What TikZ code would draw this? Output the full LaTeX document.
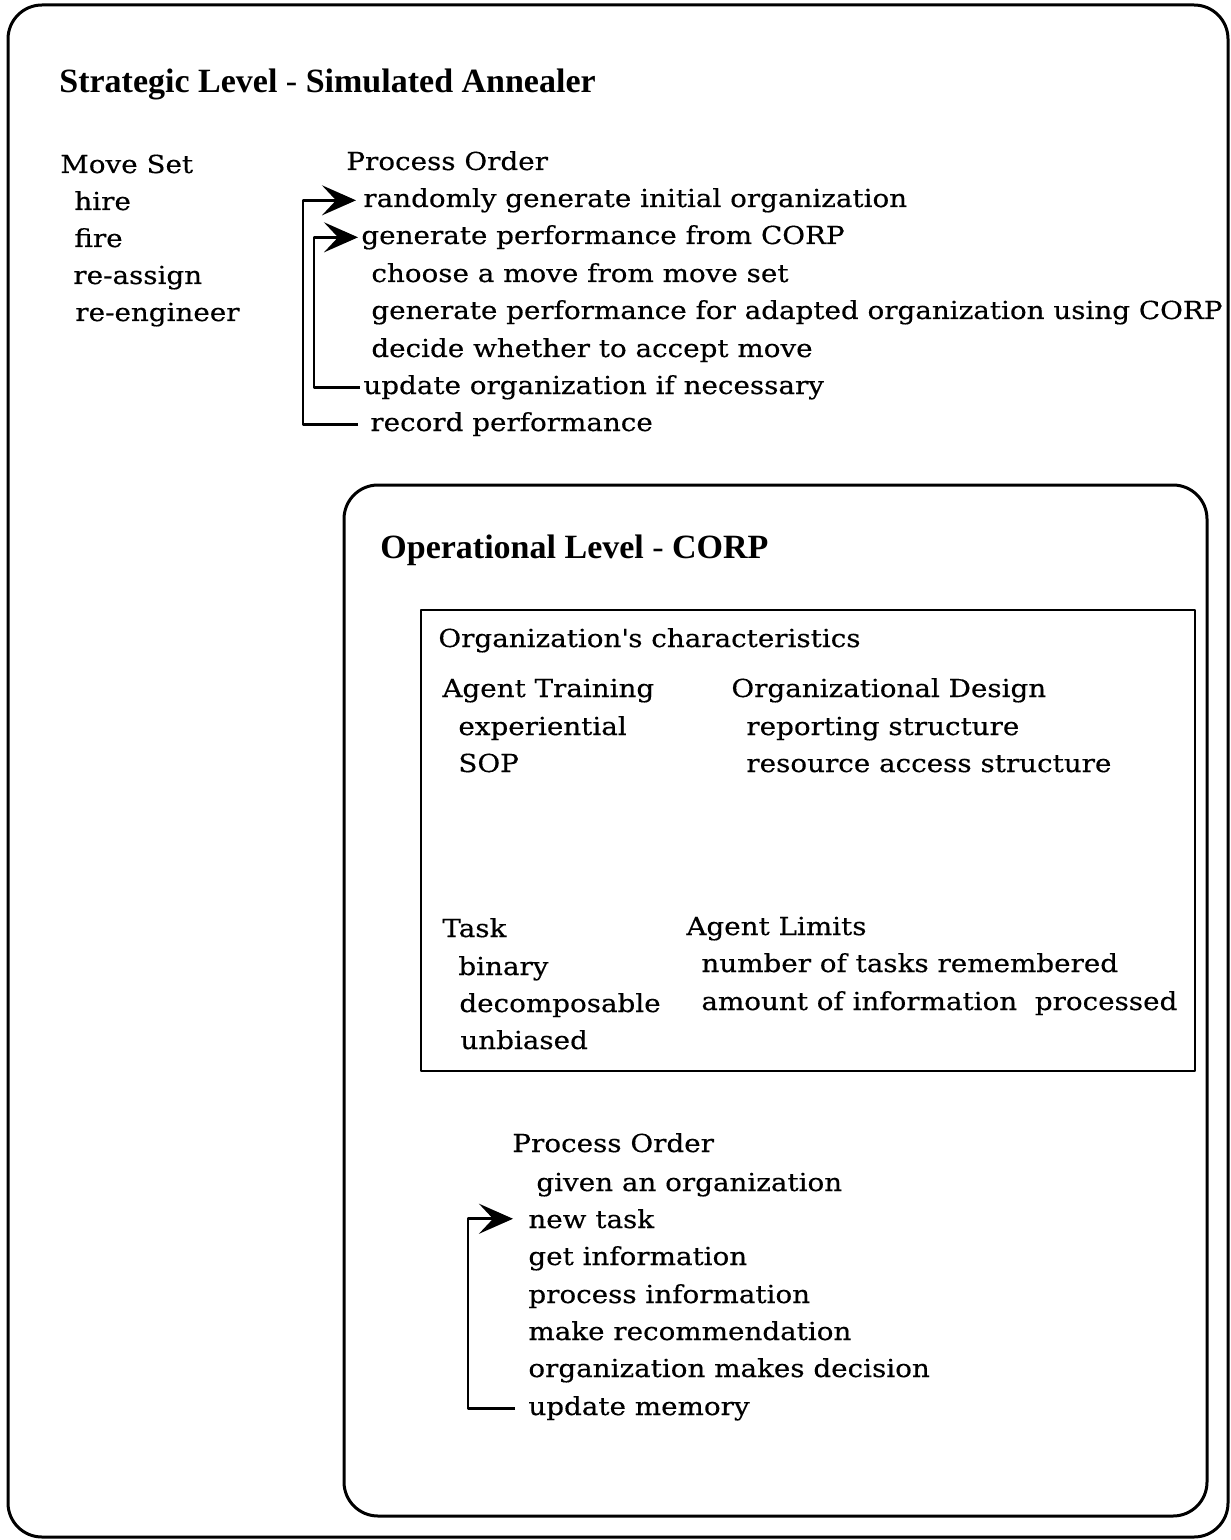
\documentclass[tikz,border=0pt]{standalone}
\usepackage{fontspec}
\setmainfont[FakeStretch=1.12,FakeBold=0.4]{DejaVu Serif}
\newfontfamily\headfont{Liberation Serif}
\usetikzlibrary{arrows.meta,calc}

\begin{document}
\begin{tikzpicture}[x=0.5pt,y=-0.5pt,>={Stealth[length=17pt,width=15pt,inset=7pt]},line join=round,
    txt/.style={anchor=base west,inner sep=0pt,font=\fontsize{12.4}{14}\selectfont},
    head/.style={anchor=base west,inner sep=0pt,font=\headfont\fontsize{17}{20}\selectfont},
    loop/.style={line width=1.4pt,->}]
    \useasboundingbox (0,0) rectangle (1230,1540);
    % frames
    \draw[line width=1.5pt,rounded corners=17pt] (8,5) rectangle (1228,1537);
    \draw[line width=1.5pt,rounded corners=17pt] (344,485) rectangle (1207,1516);
    \draw[line width=1.3pt] (421,610) rectangle (1195,1071);
    % strategic level
    \node[head] (sl) at (59,93) {\textbf{Strategic Level} - \textbf{Simulated Annealer}};
    \node[txt] (ms) at (60,173) {Move Set};
    \foreach \x/\y/\t [count=\i] in {74/210/hire,74/247/fire,73/284/re-assign,75/321/re-engineer}
    \node[txt] (ms\i) at (\x,\y) {\t};
    \node[txt] (po) at (346,170) {Process Order};
    \foreach \x/\y/\t [count=\i] in {363/207/randomly generate initial organization,
        361/244/generate performance from CORP,
        371/282/choose a move from move set,
        371/319/generate performance for adapted organization using CORP,
        371/357/decide whether to accept move,
        363/394/update organization if necessary,
        370/431/record performance}
    \node[txt] (po\i) at (\x,\y) {\t};
    \draw[loop] ($(po7.west)+(-12,0)$) -- ++(-55,0) |- ($(po1.west)+(-7,0)$);
    \draw[loop] ($(po6.west)+(-3,0)$) -- ++(-46,0) |- ($(po2.west)+(-3,0)$);
    % operational level
    \node[head] (ol) at (380,558) {\textbf{Operational Level} - \textbf{CORP}};
    \node[txt] (oc) at (438,647) {Organization\textquotesingle s characteristics};
    \node[txt] (at) at (442,697) {Agent Training};
    \node[txt] (at1) at (458,735) {experiential};
    \node[txt] (at2) at (458,772) {SOP};
    \node[txt] (od) at (731,697) {Organizational Design};
    \node[txt] (od1) at (746,735) {reporting structure};
    \node[txt] (od2) at (746,772) {resource access structure};
    \node[txt] (tk) at (442,937) {Task};
    \foreach \x/\y/\t [count=\i] in {458/975/binary,459/1012/decomposable,460/1049/unbiased}
    \node[txt] (tk\i) at (\x,\y) {\t};
    \node[txt] (al) at (686,935) {Agent Limits};
    \node[txt] (al1) at (701,972) {number of tasks remembered};
    \node[txt] (al2) at (701,1010) {amount of information\ \ processed};
    \node[txt] (cp) at (512,1152) {Process Order};
    \node[txt] (cp0) at (536,1191) {given an organization};
    \foreach \y/\t [count=\i] in {1228/new task,1265/get information,1303/process information,
        1340/make recommendation,1377/organization makes decision,1415/update memory}
    \node[txt] (cp\i) at (528,\y) {\t};
    \draw[loop] ($(cp6.west)+(-13,0)$) -- ++(-47,0) |- ($(cp1.west)+(-15,0)$);
\end{tikzpicture}
\end{document}
